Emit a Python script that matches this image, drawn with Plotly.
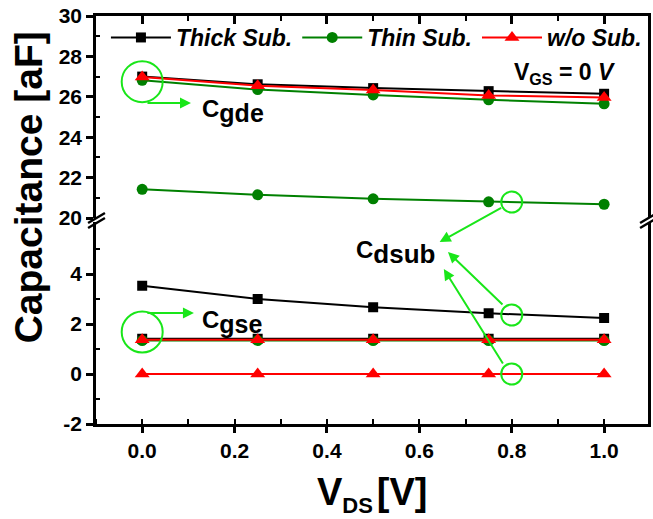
import plotly.graph_objects as go

# ---------------- data ----------------
vds = [0.0, 0.25, 0.5, 0.75, 1.0]

thick_cgde = [27.0, 26.62, 26.43, 26.28, 26.15]
thin_cgde = [26.82, 26.36, 26.09, 25.85, 25.65]
wo_cgde = [26.98, 26.55, 26.34, 26.07, 25.96]

thin_cdsub = [21.42, 21.15, 20.95, 20.8, 20.68]
thick_cdsub = [3.53, 3.0, 2.67, 2.43, 2.24]
wo_cdsub = [0.0, 0.0, 0.0, 0.0, 0.0]

thick_cgse = [1.41, 1.41, 1.41, 1.41, 1.41]
thin_cgse = [1.34, 1.34, 1.34, 1.34, 1.34]
wo_cgse = [1.37, 1.37, 1.37, 1.37, 1.37]

series_names = ["Thick Sub.", "Thin Sub.", "w/o Sub."]
x_ticks = [0.0, 0.2, 0.4, 0.6, 0.8, 1.0]
x_tick_text = ["0.0", "0.2", "0.4", "0.6", "0.8", "1.0"]
y_top_ticks = [20, 22, 24, 26, 28, 30]
y_top_text = ["20", "22", "24", "26", "28", "30"]
y_bot_ticks = [-2, 0, 2, 4]
y_bot_text = ["-2", "0", "2", "4"]

# ---------------- style ----------------
FONT = "Liberation Sans, Arial, sans-serif"
BLACK = "#000000"
GREEN = "#008000"
RED = "#ff0000"
LIME = "#19e619"

W, H = 653, 519
ML, MR, MT, MB = 96, 2, 16, 95
PW = W - ML - MR
PH = H - MT - MB


def px2paper(px, py):
    return (px - ML) / PW, (H - MB - py) / PH


fig = go.Figure()

styles = {
    "Thick Sub.": dict(color=BLACK, symbol="square", size=10),
    "Thin Sub.": dict(color=GREEN, symbol="circle", size=11),
    "w/o Sub.": dict(color=RED, symbol="triangle-up", size=13),
}


def add(yvals, name, yaxis, show):
    st = styles[name]
    fig.add_trace(go.Scatter(
        x=vds, y=yvals, mode="lines+markers", name=name,
        legendgroup=name, showlegend=show, yaxis=yaxis,
        xaxis="x" if yaxis == "y" else "x2",
        line=dict(color=st["color"], width=2),
        marker=dict(color=st["color"], symbol=st["symbol"], size=st["size"]),
    ))


# order: black, green, red
add(thick_cgde, "Thick Sub.", "y2", True)
add(thick_cdsub, "Thick Sub.", "y", False)
add(thick_cgse, "Thick Sub.", "y", False)
add(thin_cgde, "Thin Sub.", "y2", True)
add(thin_cdsub, "Thin Sub.", "y2", False)
add(thin_cgse, "Thin Sub.", "y", False)
add(wo_cgde, "w/o Sub.", "y2", True)
add(wo_cdsub, "w/o Sub.", "y", False)
add(wo_cgse, "w/o Sub.", "y", False)

tickfont = dict(family=FONT, size=21, color=BLACK, weight="bold")
x_range = [-0.1, 1.095]
bot_dom = [0, 202 / PH]
top_dom = [206 / PH, 1]

common_x = dict(range=x_range, tickvals=x_ticks, showgrid=False, zeroline=False,
                showline=True, linecolor=BLACK, linewidth=2.5, tickcolor=BLACK,
                tickwidth=2.5)

fig.update_layout(
    width=W, height=H,
    margin=dict(l=ML, r=MR, t=MT, b=MB),
    plot_bgcolor="white", paper_bgcolor="white",
    xaxis=dict(**common_x, anchor="y", ticktext=x_tick_text, ticks="outside",
               ticklen=6, tickfont=tickfont,
               minor=dict(dtick=0.1, tick0=0, ticks="inside", ticklen=5,
                          tickcolor=BLACK, tickwidth=2)),
    xaxis2=dict(**common_x, anchor="y2", matches="x", side="top",
                showticklabels=False, ticks="inside", ticklen=8,
                minor=dict(dtick=0.1, tick0=0, ticks="inside", ticklen=5,
                           tickcolor=BLACK, tickwidth=2)),
    yaxis=dict(domain=bot_dom, range=[-2, 6.08], tickvals=y_bot_ticks,
               ticktext=y_bot_text,
               showgrid=False, zeroline=False, showline=True, mirror=True,
               linecolor=BLACK, linewidth=2.5, ticks="outside", ticklen=7,
               tickcolor=BLACK, tickwidth=2.5, tickfont=tickfont, anchor="x",
               minor=dict(tickmode="array", tickvals=[-1, 1, 3, 5],
                          ticks="inside", ticklen=4, tickcolor=BLACK, tickwidth=2)),
    yaxis2=dict(domain=top_dom, range=[20, 30], tickvals=y_top_ticks,
                ticktext=y_top_text,
                showgrid=False, zeroline=False, showline=True, mirror=True,
                linecolor=BLACK, linewidth=2.5, ticks="outside", ticklen=7,
                tickcolor=BLACK, tickwidth=2.5, tickfont=tickfont, anchor="x2",
                minor=dict(tickmode="array", tickvals=[21, 23, 25, 27, 29],
                           ticks="inside", ticklen=4, tickcolor=BLACK, tickwidth=2)),
    yaxis3=dict(overlaying="y", side="right", anchor="x", range=[-2, 6.08],
                tickvals=y_bot_ticks, showticklabels=False, showgrid=False,
                zeroline=False, showline=False, ticks="inside", ticklen=7,
                tickcolor=BLACK, tickwidth=2.5,
                minor=dict(tickmode="array", tickvals=[-1, 1, 3, 5],
                           ticks="inside", ticklen=4, tickcolor=BLACK, tickwidth=2)),
    yaxis4=dict(overlaying="y2", side="right", anchor="x2", range=[20, 30],
                tickvals=y_top_ticks, showticklabels=False, showgrid=False,
                zeroline=False, showline=False, ticks="inside", ticklen=7,
                tickcolor=BLACK, tickwidth=2.5,
                minor=dict(tickmode="array", tickvals=[21, 23, 25, 27, 29],
                           ticks="inside", ticklen=4, tickcolor=BLACK, tickwidth=2)),
    legend=dict(orientation="h", x=0.018, y=1.0, xanchor="left", yanchor="top",
                bgcolor="rgba(0,0,0,0)", itemwidth=60,
                font=dict(family=FONT, size=23, color=BLACK, weight="bold",
                          style="italic")),
    showlegend=True,
)

# ---------------- annotation circles ----------------
circles = [
    ("x", "y2", 0.0, 26.75, 20.5),
    ("x", "y2", 0.8, 20.79, 10.5),
    ("x", "y", 0.8, 2.36, 10.5),
    ("x", "y", 0.8, 0.0, 10.5),
    ("x", "y", 0.0, 1.68, 20.5),
]
for xr, yr, cx, cy, r in circles:
    fig.add_shape(type="circle", xref=xr, yref=yr, xsizemode="pixel",
                  ysizemode="pixel", xanchor=cx, yanchor=cy,
                  x0=-r, x1=r, y0=-r, y1=r, line=dict(color=LIME, width=2))

# ---------------- arrows ----------------
arrows = [
    ("x2", "y2", 0.1056, 25.69, -45, 0),
    ("x", "y", 0.112, 2.44, -48, 0),
    ("x", "y", 0.644, 5.28, 63, -35),
    ("x", "y", 0.662, 4.88, 56, 54),
    ("x", "y", 0.653, 4.2, 60, 96),
]
for xr, yr, hx, hy, ax, ay in arrows:
    fig.add_annotation(xref=xr, yref=yr, x=hx, y=hy, ax=ax, ay=ay, text="",
                       showarrow=True, arrowhead=2, arrowsize=1.1,
                       arrowwidth=2, arrowcolor=LIME)

# ---------------- labels ----------------
lab_font = dict(family=FONT, size=24, color=BLACK, weight="bold")
labels = [
    ("x2", "y2", 0.126, 25.3, "C<sub><span style='font-size:25px'>gde</span></sub>"),
    ("x", "y", 0.125, 2.1, "C<sub><span style='font-size:25px'>gse</span></sub>"),
    ("x", "y", 0.459, 4.85, "C<sub><span style='font-size:26px'>dsub</span></sub>"),
]
for xr, yr, lx, ly, t in labels:
    fig.add_annotation(xref=xr, yref=yr, x=lx, y=ly, text=t, showarrow=False,
                       xanchor="left", yanchor="middle", font=lab_font)

fig.add_annotation(xref="x2", yref="y2", x=0.8, y=27.15,
                   text="V<sub>GS</sub> = 0 <i>V</i>", showarrow=False,
                   xanchor="left", yanchor="middle",
                   font=dict(family=FONT, size=23, color=BLACK, weight="bold"))

# axis titles
px, py = px2paper(29, 187)
fig.add_annotation(xref="paper", yref="paper", x=px, y=py,
                   text="Capacitance [aF]", textangle=-90, showarrow=False,
                   xanchor="center", yanchor="middle",
                   font=dict(family=FONT, size=39, color=BLACK, weight="bold"))
px, py = px2paper(374, 494)
fig.add_annotation(xref="paper", yref="paper", x=px, y=py,
                   text="V<sub><span style='font-size:22px'>DS</span></sub>"
                        "<span style='font-size:14px'> </span>[V]",
                   showarrow=False, xanchor="center", yanchor="middle",
                   font=dict(family=FONT, size=38, color=BLACK, weight="bold"))

# ---------------- axis break marks ----------------
for (x0p, y0p, x1p, y1p) in [(88, 223, 105, 213), (88, 228, 105, 218),
                             (643, 223, 660, 213), (643, 228, 660, 218)]:
    a, b = px2paper(x0p, y0p)
    c, d = px2paper(x1p, y1p)
    fig.add_shape(type="line", xref="paper", yref="paper", x0=a, y0=b, x1=c, y1=d,
                  line=dict(color=BLACK, width=2.5), layer="above")

fig.write_html("out.html", config={"displayModeBar": False},
               post_script="document.body.style.margin='0';"
                           "document.body.style.padding='0';")
